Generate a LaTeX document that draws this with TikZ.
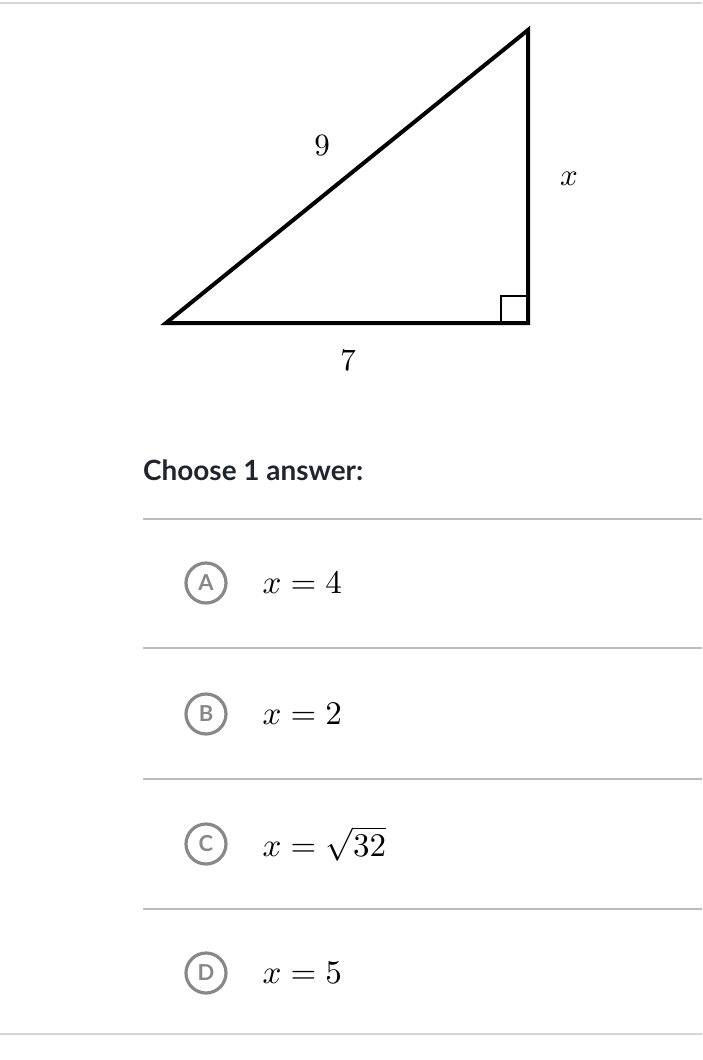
\documentclass[tikz,border=0pt]{standalone}
\usepackage{fontspec}
\newfontfamily\lato{Lato}
\usetikzlibrary{calc}
\definecolor{sep}{HTML}{BDBDBD}
\definecolor{topl}{HTML}{D6D6D6}
\definecolor{circ}{HTML}{888888}
\definecolor{ink}{HTML}{21242C}
\begin{document}
\begin{tikzpicture}[x=1pt,y=-1pt,
  tri/.style={line width=4pt,line join=miter},
  lab/.style={scale=3.1,inner sep=0pt},
  opt/.style={circle,draw=circ,line width=3.2pt,minimum size=40pt,inner sep=0pt,text=circ,font=\lato\bfseries\fontsize{22}{24}\selectfont},
  ans/.style={anchor=west,inner sep=0pt,scale=3.3},
  sepl/.style={draw=sep,line width=2pt}]
\useasboundingbox (0,0) rectangle (702,1060);
\draw[draw=topl,line width=2.5pt] (0,3) -- (702,3);
\coordinate (P) at (166,323);
\coordinate (Q) at (528,323);
\coordinate (R) at (528,30);
\draw[tri] (P) -- (Q) -- (R) -- cycle;
\draw[line width=2pt] (501,323) -- (501,296) -- (528,296);
\node[lab] (l9) at (322,146) {$9$};
\node[lab] (lx) at (569,179) {$x$};
\node[lab] (l7) at (348,361) {$7$};
\node[anchor=base west,inner sep=0pt,text=ink,font=\lato\bfseries\fontsize{27.9}{32}\selectfont] (ch) at (143,480) {Choose 1 answer:};
\draw[sepl] (143,519) -- (702,519);
\draw[sepl] (143,648) -- (702,648);
\draw[sepl] (143,779) -- (702,779);
\draw[sepl] (143,909) -- (702,909);
\draw[draw=topl,line width=2.5pt] (0,1034) -- (702,1034);
\node[opt] (a) at (206,583) {A};
\node[ans] (ta) at (262,583) {$x=4$};
\node[opt] (b) at (206,714) {B};
\node[ans] (tb) at (262,714) {$x=2$};
\node[opt] (c) at (206,844) {C};
\node[ans] (tc) at (262,844) {$x=\sqrt{32}$};
\node[opt] (d) at (206,973) {D};
\node[ans] (td) at (262,973) {$x=5$};
\end{tikzpicture}
\end{document}
